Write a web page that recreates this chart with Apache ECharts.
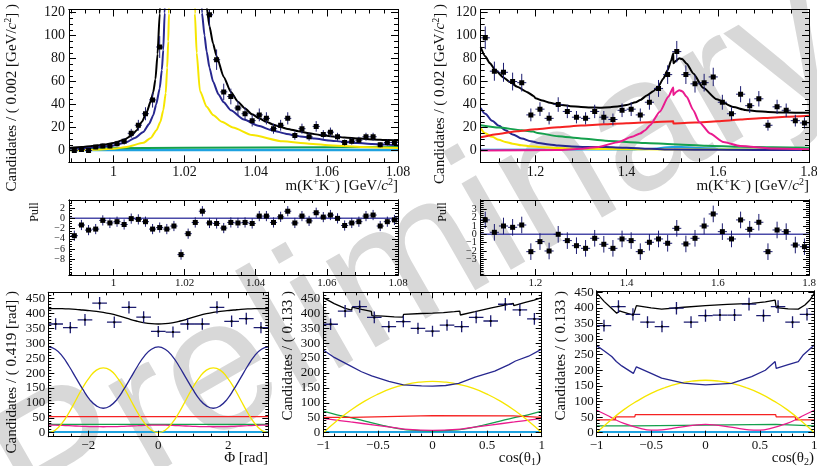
<!DOCTYPE html>
<html><head><meta charset="utf-8">
<script src="https://cdn.jsdelivr.net/npm/echarts@6/dist/echarts.min.js"></script>
<style>html,body{margin:0;padding:0;background:#fff}#c{width:817px;height:466px}</style>
</head><body><div id="c"></div>
<script>
// ===================== DATA =====================
// Panel 1: m(K+K-) near phi(1020), bins of 0.002
const p1X = [0.989,0.991,0.993,0.995,0.997,0.999,1.001,1.003,1.005,1.007,1.009,1.011,1.013,1.015,1.017,1.019,1.021,1.023,1.025,1.027,1.029,1.031,1.033,1.035,1.037,1.039,1.041,1.043,1.045,1.047,1.049,1.051,1.053,1.055,1.057,1.059,1.061,1.063,1.065,1.067,1.069,1.071,1.073,1.075,1.077,1.079];
const p1N = [0,1,0,3,4,4,6,8,15,22,32,44,90,180,420,700,520,300,190,118,79,51,47,37,32,26,31,28,19,22,28,13,19,12,21,14,16,12,7,8,9,12,12,5,7,7];
const p1Pull = [-3.4,-1.3,-2.3,-2.1,-0.4,-0.9,-0.65,-1.2,-0.05,-0.2,-0.65,-2.1,-1.8,-2.1,-1.5,-7.1,-3.0,-0.8,1.4,-0.9,-1.0,-1.9,-0.8,-0.9,-0.8,-1.0,0.45,0.45,-0.8,0.3,1.4,-0.9,0.45,-0.5,1.1,0.25,0.65,0.0,-1.4,-0.9,-0.65,0.45,0.65,-1.5,-0.65,-0.3];
const p1Total = [[0.9875,2.3],[0.991,3.0],[0.994,3.9],[0.997,5.0],[1.000,6.6],[1.003,9.4],[1.005,12.8],[1.0065,17.5],[1.008,25],[1.0093,33],[1.0105,43],[1.0112,51],[1.0118,62],[1.0124,84],[1.013,119],[1.0135,150],[1.0145,240],[1.016,600],[1.0195,2000],[1.024,400],[1.025,230],[1.0262,125],[1.027,108],[1.028,93],[1.029,82],[1.031,64],[1.033,51],[1.035,42.5],[1.037,36.5],[1.039,31.5],[1.041,28],[1.043,25],[1.045,22.5],[1.047,20.5],[1.049,18.8],[1.052,16.8],[1.055,15],[1.058,13.6],[1.061,12.5],[1.065,11.3],[1.069,10.4],[1.073,9.7],[1.077,9.1],[1.080,8.8]];
const p1Navy = [[0.9875,1.5],[0.991,2.0],[0.994,2.6],[0.997,3.3],[1.000,4.5],[1.0037,7.3],[1.006,11],[1.0084,16.2],[1.010,23],[1.0112,30.8],[1.012,40],[1.013,54],[1.0136,70],[1.014,87.5],[1.0144,119.5],[1.015,180],[1.017,600],[1.0195,2500],[1.022,600],[1.0238,200],[1.0249,119.5],[1.0256,100],[1.0262,86],[1.027,72],[1.028,60],[1.0295,49],[1.031,42],[1.033,35],[1.0367,27],[1.0407,21.5],[1.0447,17.5],[1.0487,14.5],[1.0526,12.3],[1.0566,10.4],[1.0606,8.8],[1.0647,7.6],[1.0687,6.6],[1.0727,5.8],[1.080,4.6]];
const p1Yellow = [[0.9875,0.3],[0.995,0.8],[1.000,1.5],[1.0037,3.2],[1.0084,6.7],[1.0105,11],[1.0121,17.7],[1.0132,25],[1.014,35],[1.0147,50],[1.0151,72],[1.0154,95],[1.0156,119],[1.0165,250],[1.0195,2500],[1.0225,250],[1.0229,119],[1.0234,85],[1.0243,52],[1.0262,38],[1.028,31],[1.0305,25],[1.0336,20],[1.039,13.5],[1.0476,8],[1.055,6],[1.0616,4.4],[1.07,3.2],[1.08,2.3]];
const p1Green = [[0.9875,1.8],[1.02,2.5],[1.08,3.0]];
const p1Cyan = [[0.9875,0.5],[1.08,0.5]];

// Panel 2: m(K+K-) high mass, bins of 0.02
const p2X = [1.09,1.11,1.13,1.15,1.17,1.19,1.21,1.23,1.25,1.27,1.29,1.31,1.33,1.35,1.37,1.39,1.41,1.43,1.45,1.47,1.49,1.51,1.53,1.55,1.57,1.59,1.61,1.63,1.65,1.67,1.69,1.71,1.73,1.75,1.77,1.79];
const p2N = [98,69,68,60,59,31,36,28,40,34,29,28,34,29,27,35,36,31,42,54,66,86,66,58,59,64,42,32,49,39,45,22,38,35,26,24];
const p2Pull = [1.73,0.24,1.0,0.84,1.12,-2.09,-0.88,-2.01,0,-0.76,-1.37,-1.69,-0.48,-1.2,-1.69,-0.56,-0.76,-2.09,-0.96,-0.56,-1.08,0.72,-1.16,-0.48,1.0,2.45,0.32,-0.56,1.73,0.6,1.45,-2.09,0.52,0.32,-1.29,-1.49];
const p2Total = [[1.08,90],[1.09,82],[1.10,76],[1.112,70],[1.13,63.5],[1.144,59.5],[1.16,55.5],[1.181,51],[1.196,47.5],[1.20,45.5],[1.215,43.5],[1.232,41.5],[1.25,40],[1.276,38.6],[1.30,37.8],[1.32,37.4],[1.34,37.3],[1.364,37.6],[1.38,38.4],[1.40,39.6],[1.42,42],[1.43,44],[1.445,48],[1.4585,51.5],[1.47,56],[1.4804,62.5],[1.49,70],[1.4975,78],[1.5024,84.6],[1.5025,75.9],[1.508,78],[1.5155,80.2],[1.522,79.5],[1.5317,75.5],[1.5463,67],[1.568,54.5],[1.5975,44.5],[1.634,37.8],[1.66,35.3],[1.685,34.2],[1.71,33.5],[1.736,33.1],[1.77,32.9],[1.8,32.8]];
const p2Magenta = [[1.08,0],[1.25,0.5],[1.30,1.5],[1.3388,3.2],[1.3826,7.5],[1.4118,11.9],[1.4294,14.8],[1.441,17.7],[1.4513,22],[1.4733,34],[1.4914,46.7],[1.5024,54.9],[1.5025,48.2],[1.509,51],[1.5155,52.5],[1.522,51.5],[1.5317,46.7],[1.5463,35.1],[1.559,24.9],[1.583,14.8],[1.612,7.5],[1.649,4.0],[1.722,1.7],[1.8,1.1]];
const p2Red = [[1.08,11.5],[1.12,14.5],[1.16,16.8],[1.2,18.5],[1.25,20.3],[1.3,21.7],[1.35,22.8],[1.4,23.7],[1.45,24.5],[1.5024,25.4],[1.5025,23.6],[1.55,24.3],[1.6,25.5],[1.65,26.9],[1.7,28.2],[1.75,29.3],[1.8,30.2]];
const p2Green = [[1.08,22],[1.12,20],[1.17,17.7],[1.195,16.5],[1.205,15.2],[1.25,12.5],[1.3,10.5],[1.353,8.6],[1.4,7.5],[1.441,6.6],[1.5,5.5],[1.575,4.2],[1.65,3.3],[1.72,2.8],[1.8,2.4]];
const p2Navy = [[1.08,37],[1.09,32],[1.105,26],[1.12,21.5],[1.134,17.7],[1.15,14],[1.17,10.5],[1.19,8.2],[1.207,6.6],[1.23,5.3],[1.251,4.3],[1.28,3.6],[1.309,3.2],[1.353,3.0],[1.4,2.5],[1.45,1.5],[1.5,0.9],[1.6,0.6],[1.8,0.4]];
const p2Yellow = [[1.08,19.5],[1.09,15],[1.105,11.9],[1.12,9.3],[1.134,7.5],[1.15,6],[1.17,4.6],[1.19,3.7],[1.207,3.2],[1.25,2.2],[1.28,1.7],[1.35,1.3],[1.5,1.0],[1.8,0.8]];
const p2Cyan = [[1.08,0.8],[1.4,0.9],[1.45,1.4],[1.5,3.0],[1.52,3.2],[1.56,2.2],[1.62,1.2],[1.8,0.8]];

// Panel 3: Phi [rad], 15 bins
const p3X = [-2.932,-2.513,-2.094,-1.676,-1.257,-0.838,-0.419,0,0.419,0.838,1.257,1.676,2.094,2.513,2.932];
const p3N = [365,353,379,435,371,421,388,340,338,365,365,421,374,383,353];
const p3CurveX = [-3.1416,-2.9452,-2.7489,-2.5525,-2.3562,-2.1598,-1.9635,-1.7671,-1.5708,-1.3744,-1.1781,-0.9817,-0.7854,-0.589,-0.3927,-0.1963,0,0.1963,0.3927,0.589,0.7854,0.9817,1.1781,1.3744,1.5708,1.7671,1.9635,2.1598,2.3562,2.5525,2.7489,2.9452,3.1416];
const p3Total = [417,417,416.5,415.5,414,412,410,407.5,404,399.5,394,387.5,380,374,369,366,365,366,369,374,380,387.5,394,399.5,404,407.5,410,412,414,415.5,416.5,417,417];
const p3Navy = [288,280,258,224,185,146,112,90,82,90,112,146,185,224,258,280,288,280,258,224,185,146,112,90,82,90,112,146,185,224,258,280,288];
const p3Yellow = [0,8,32,67,109,151,186,210,218,210,186,151,109,67,32,8,0,8,32,67,109,151,186,210,218,210,186,151,109,67,32,8,0];
const p3Magenta = [25.5,25.3,24.5,23.5,22.5,21.5,20.5,20.1,20,20.1,20.5,21.5,22.5,23.5,24.5,25.3,25.5,25.3,24.5,23.5,22.5,21.5,20.5,20.1,20,20.1,20.5,21.5,22.5,23.5,24.5,25.3,25.5];
const p3Red = [[-3.1416,54],[3.1416,54]];
const p3Green = [[-3.1416,28],[3.1416,28]];
const p3Cyan = [[-3.1416,2],[3.1416,2]];

// Panel 4: cos(theta1), 15 bins
const p4X = [-0.933,-0.8,-0.667,-0.533,-0.4,-0.267,-0.133,0,0.133,0.267,0.4,0.533,0.667,0.8,0.933];
const p4N = [363,407,422,386,355,372,349,340,360,355,386,374,430,411,381];
const p4Total = [[-1,452],[-0.9,432],[-0.8,416],[-0.74,410],[-0.735,420],[-0.65,413],[-0.56,406],[-0.555,392],[-0.45,390],[-0.35,388],[-0.27,387],[-0.265,396],[-0.1,399],[0,400],[0.1,402],[0.2,405],[0.25,407],[0.255,394],[0.39,405],[0.54,418],[0.65,426],[0.74,433],[0.745,425],[0.85,436],[0.93,444],[1,452]];
const p4Navy = [[-1,277],[-0.9,252],[-0.77,227],[-0.765,221],[-0.65,204],[-0.557,190],[-0.55,194],[-0.4,172],[-0.267,160],[-0.26,165],[-0.1,157],[0,156],[0.12,158],[0.24,165],[0.39,186],[0.57,206],[0.7,228],[0.76,240],[0.765,234],[0.88,256],[1,280]];
const p4Yellow = [[-1,0],[-0.875,40],[-0.75,75],[-0.625,105],[-0.5,129],[-0.375,148],[-0.25,161],[-0.125,169],[0,172],[0.125,169],[0.25,161],[0.375,148],[0.5,129],[0.625,105],[0.75,75],[0.875,40],[1,0]];
const p4Red = [[-1,51],[-0.74,51],[-0.735,56],[0,57],[0.74,56],[0.745,51],[1,51]];
const p4Green = [[-1,72],[-0.875,60],[-0.74,50],[-0.6,37],[-0.45,24],[-0.3,13],[-0.15,7.5],[0,5.6],[0.15,7.5],[0.3,13],[0.45,24],[0.6,37],[0.74,50],[0.875,60],[1,72]];
const p4Magenta = [[-1,48],[-0.75,36],[-0.53,25.7],[-0.35,17],[-0.22,11],[0,8],[0.22,11],[0.35,17],[0.53,25.7],[0.75,36],[1,48]];
const p4Cyan = [[-1,2],[1,2]];

// Panel 5: cos(theta2), 15 bins
const p5X = [-0.933,-0.8,-0.667,-0.533,-0.4,-0.267,-0.133,0,0.133,0.267,0.4,0.533,0.667,0.8,0.933];
const p5N = [343,404,379,354,340,399,354,375,377,377,412,375,404,354,379];
const p5Total = [[-1,447],[-0.93,420],[-0.862,398],[-0.816,383],[-0.79,390],[-0.77,388],[-0.663,377],[-0.645,377],[-0.635,407],[-0.5,400],[-0.403,396],[-0.2,402],[0,407],[0.2,411],[0.424,414.5],[0.55,419],[0.64,425],[0.65,401],[0.76,397],[0.853,396],[0.914,409],[0.96,425],[1,447]];
const p5Navy = [[-1,279],[-0.93,262],[-0.862,244],[-0.82,228],[-0.77,214],[-0.663,190],[-0.645,188],[-0.635,211],[-0.5,190],[-0.403,175],[-0.2,159],[0,153],[0.24,158],[0.424,179.5],[0.55,200],[0.64,228],[0.65,206],[0.76,218],[0.853,228],[0.9,250],[1,281]];
const p5Yellow = [[-1,0],[-0.875,39],[-0.75,74],[-0.625,102],[-0.5,126],[-0.375,144],[-0.25,157],[-0.125,165],[0,168],[0.125,165],[0.25,157],[0.375,144],[0.5,126],[0.625,102],[0.75,74],[0.875,39],[1,0]];
const p5Red = [[-1,41],[-0.83,41],[-0.825,51],[-0.65,51],[-0.645,58],[0.645,58],[0.65,51],[0.825,51],[0.83,41],[1,41]];
const p5Green = [[-1,22],[-0.65,22],[-0.645,27],[0.645,27],[0.65,22],[1,22]];
const p5Magenta = [[-1,72],[-0.9,55],[-0.83,42],[-0.75,30],[-0.6,14],[-0.5,8],[-0.4,9],[-0.25,17],[0,27],[0.25,17],[0.4,9],[0.5,8],[0.6,14],[0.75,30],[0.83,42],[0.9,55],[1,72]];
const p5Cyan = [[-1,2],[1,2]];

// Tick labels
const tkMassLo = [1,1.02,1.04,1.06,1.08];
const tkMassHi = [1.2,1.4,1.6,1.8];
const tkCount = [0,20,40,60,80,100,120];
const tkPull1 = [-8,-6,-4,-2,0,2];
const tkPull2 = [-4,-3,-2,-1,0,1,2,3,4];
const tkPhi = [-2,0,2];
const tkCos = [-1,-0.5,0,0.5,1];
const tkAng = [0,50,100,150,200,250,300,350,400,450];

// ===================== STYLE / BUILD =====================
const C = {black:'#000000', navy:'#27278f', yellow:'#f6e600', red:'#f52222', green:'#14a04c', magenta:'#ea1a8e', cyan:'#1ea2e0', bar:'#1c1c70', zero:'#4a4aa8'};
const FONT = 'Liberation Serif';

function seq(a, b, step) {
  const out = []; const n = Math.round((b - a) / step);
  for (let i = 0; i <= n; i++) out.push(+(a + i * step).toFixed(6));
  return out;
}
function within(arr, lo, hi) { return arr.filter(v => v >= lo - 1e-9 && v <= hi + 1e-9); }
const fmt = v => String(v).replace('-', '\u2212');

const option = {animation:false, backgroundColor:'#fff', grid:[], xAxis:[], yAxis:[], series:[], graphic:[]};
const AX = [];

function axis(g, pos, min, max, ticks, len, label) {
  return {type:'value', gridIndex:g, position:pos, min, max, silent:true, z:6,
    axisLine:{show:true, onZero:false, lineStyle:{color:'#000', width:1}},
    axisTick:{show:true, inside:true, length:len, customValues:ticks, lineStyle:{color:'#000', width:1}},
    axisLabel: label ? Object.assign({show:true, customValues:ticks, fontFamily:FONT, color:'#111', formatter:fmt, hideOverlap:false}, label) : {show:false},
    splitLine:{show:false}, minorTick:{show:false}, minorSplitLine:{show:false}, axisPointer:{show:false}};
}

function panel(p) {
  const g = option.grid.length;
  option.grid.push({left:p.left, top:p.top, width:p.width, height:p.height, containLabel:false, outerBoundsMode:'none', show:false});
  const xMaj = within(p.xTicks, p.xMin, p.xMax), xMin = within(seq(p.xMinorFrom, p.xMax, p.xMinorStep), p.xMin, p.xMax);
  const yMaj = within(p.yTicks, p.yMin, p.yMax), yMin = within(seq(p.yMinorFrom, p.yMax, p.yMinorStep), p.yMin, p.yMax);
  const xi = option.xAxis.length, yi = option.yAxis.length;
  option.xAxis.push(axis(g,'bottom',p.xMin,p.xMax,xMaj,p.majLen,{fontSize:p.xFont, margin:p.xMargin}));
  option.xAxis.push(axis(g,'bottom',p.xMin,p.xMax,xMin,p.minLen,null));
  option.xAxis.push(axis(g,'top',p.xMin,p.xMax,xMaj,p.majLen,null));
  option.xAxis.push(axis(g,'top',p.xMin,p.xMax,xMin,p.minLen,null));
  option.yAxis.push(axis(g,'left',p.yMin,p.yMax,yMaj,p.majLen,{fontSize:p.yFont, margin:p.yMargin}));
  option.yAxis.push(axis(g,'left',p.yMin,p.yMax,yMin,p.minLen,null));
  option.yAxis.push(axis(g,'right',p.yMin,p.yMax,yMaj,p.majLen,null));
  option.yAxis.push(axis(g,'right',p.yMin,p.yMax,yMin,p.minLen,null));
  AX.push({x:xi, y:yi});
  return g;
}

function curve(g, data, color, width, smooth, mono) {
  const s = {type:'line', xAxisIndex:AX[g].x, yAxisIndex:AX[g].y, data, showSymbol:false, symbol:'none',
    smooth: smooth || false, clip:true, silent:true, z:3, lineStyle:{color, width}};
  if (mono) s.smoothMonotone = 'x';
  option.series.push(s);
}
function points(g, data, halfW, ms, barW) {
  option.series.push({type:'custom', xAxisIndex:AX[g].x, yAxisIndex:AX[g].y, data, clip:true, silent:true, z:4,
    renderItem(params, api) {
      const x = api.value(0), y = api.value(1), e = api.value(2);
      const c = api.coord([x, y]), l = api.coord([x - halfW, y]), r = api.coord([x + halfW, y]);
      const t = api.coord([x, y + e]), b = api.coord([x, y - e]);
      return {type:'group', children:[
        {type:'line', shape:{x1:l[0], y1:c[1], x2:r[0], y2:c[1]}, style:{stroke:C.bar, lineWidth:barW}},
        {type:'line', shape:{x1:c[0], y1:t[1], x2:c[0], y2:b[1]}, style:{stroke:C.bar, lineWidth:barW}},
        {type:'rect', shape:{x:c[0]-ms/2, y:c[1]-ms/2, width:ms, height:ms}, style:{fill:'#000'}}
      ]};
    }});
}
const zipXY = (xs, ys) => xs.map((x, i) => [x, ys[i]]);
const withErr = (xs, ys) => xs.map((x, i) => [x, ys[i], Math.sqrt(ys[i])]);
const withUnit = (xs, ys) => xs.map((x, i) => [x, ys[i], 1]);

// ----- grids -----
const topCommon = {top:9.5, height:152.8, yMin:-10.2, yMax:122.6, yTicks:tkCount, yMinorFrom:0, yMinorStep:5, majLen:7, minLen:4, xFont:14, yFont:14, xMargin:3, yMargin:4};
const g0 = panel(Object.assign({}, topCommon, {left:69, width:329, xMin:0.9875, xMax:1.08, xTicks:tkMassLo, xMinorFrom:0.988, xMinorStep:0.004}));
const g1 = panel(Object.assign({}, topCommon, {left:480.7, width:328.3, xMin:1.08, xMax:1.8, xTicks:tkMassHi, xMinorFrom:1.08, xMinorStep:0.04}));
const g2 = panel({left:69, width:329, top:200, height:75, xMin:0.9875, xMax:1.08, xTicks:tkMassLo, xMinorFrom:0.988, xMinorStep:0.004,
  yMin:-11.1, yMax:3.6, yTicks:tkPull1, yMinorFrom:-11, yMinorStep:0.5, majLen:6, minLen:3, xFont:11, yFont:10, xMargin:3, yMargin:4});
const g3 = panel({left:480.7, width:328.3, top:200, height:75, xMin:1.08, xMax:1.8, xTicks:tkMassHi, xMinorFrom:1.08, xMinorStep:0.04,
  yMin:-4.9, yMax:4.13, yTicks:tkPull2, yMinorFrom:-4.75, yMinorStep:0.25, majLen:6, minLen:3, xFont:11, yFont:10, xMargin:3, yMargin:4});
const botCommon = {top:292.3, height:144.4, yTicks:tkAng, yMinorFrom:0, yMinorStep:10, majLen:6, minLen:3, xFont:13, yFont:13, xMargin:2, yMargin:3};
const g4 = panel(Object.assign({}, botCommon, {left:48.3, width:220, xMin:-Math.PI, xMax:Math.PI, xTicks:tkPhi, xMinorFrom:-3, xMinorStep:0.5, yMin:-13.5, yMax:471.5}));
const g5 = panel(Object.assign({}, botCommon, {left:323.3, width:218.4, xMin:-1, xMax:1, xTicks:tkCos, xMinorFrom:-1, xMinorStep:0.1, yMin:-13.4, yMax:470}));
const g6 = panel(Object.assign({}, botCommon, {left:596.7, top:291, height:145.7, width:217.6, xMin:-1, xMax:1, xTicks:tkCos, xMinorFrom:-1, xMinorStep:0.1, yMin:-12.8, yMax:454}));

// ----- series -----
curve(g0, p1Cyan, C.cyan, 2.5);
curve(g0, p1Green, C.green, 2);
curve(g0, p1Yellow, C.yellow, 2, 0.2, true);
curve(g0, p1Navy, C.navy, 2, 0.2, true);
curve(g0, p1Total, C.black, 2, 0.2, true);
points(g0, withErr(p1X, p1N), 0.001, 5, 1);

curve(g1, p2Cyan, C.cyan, 2, 0.3, true);
curve(g1, p2Yellow, C.yellow, 2, 0.3, true);
curve(g1, p2Navy, C.navy, 2, 0.3, true);
curve(g1, p2Green, C.green, 2, 0.2, true);
curve(g1, p2Red, C.red, 2, 0.2, true);
curve(g1, p2Magenta, C.magenta, 2, 0.2, true);
curve(g1, p2Total, C.black, 2, 0.2, true);
points(g1, withErr(p2X, p2N), 0.01, 5, 1);

curve(g2, [[0.9875,0],[1.08,0]], C.zero, 1.5);
points(g2, withUnit(p1X, p1Pull), 0.001, 5, 1);
curve(g3, [[1.08,0],[1.8,0]], C.zero, 1.5);
points(g3, withUnit(p2X, p2Pull), 0.01, 5, 1);

curve(g4, p3Cyan, C.cyan, 2);
curve(g4, p3Green, C.green, 1.3);
curve(g4, zipXY(p3CurveX, p3Magenta), C.magenta, 1.3, 0.5);
curve(g4, p3Red, C.red, 1.3);
curve(g4, zipXY(p3CurveX, p3Yellow), C.yellow, 1.3, 0.5);
curve(g4, zipXY(p3CurveX, p3Navy), C.navy, 1.3, 0.5);
curve(g4, zipXY(p3CurveX, p3Total), C.black, 1.3, 0.5);
points(g4, withErr(p3X, p3N), 0.2094, 2, 1.3);

curve(g5, p4Cyan, C.cyan, 2);
curve(g5, p4Green, C.green, 1.3, 0.4);
curve(g5, p4Magenta, C.magenta, 1.3, 0.4);
curve(g5, p4Red, C.red, 1.3);
curve(g5, p4Yellow, C.yellow, 1.3, 0.5);
curve(g5, p4Navy, C.navy, 1.3);
curve(g5, p4Total, C.black, 1.3);
points(g5, withErr(p4X, p4N), 0.0667, 2, 1.3);

curve(g6, p5Cyan, C.cyan, 2);
curve(g6, p5Green, C.green, 1.3);
curve(g6, p5Magenta, C.magenta, 1.3, 0.4);
curve(g6, p5Red, C.red, 1.3);
curve(g6, p5Yellow, C.yellow, 1.3, 0.5);
curve(g6, p5Navy, C.navy, 1.3);
curve(g6, p5Total, C.black, 1.3);
points(g6, withErr(p5X, p5N), 0.0667, 2, 1.3);

// ----- texts -----
const RICH = {
  n:{fontFamily:FONT, fontSize:15, lineHeight:18, fill:'#111'},
  i:{fontFamily:FONT, fontSize:15, lineHeight:18, fontStyle:'italic', fill:'#111'},
  s:{fontFamily:FONT, fontSize:10, lineHeight:18, verticalAlign:'top', fill:'#111'},
  b:{fontFamily:FONT, fontSize:10, lineHeight:18, verticalAlign:'bottom', fill:'#111'},
  p:{fontFamily:FONT, fontSize:12, lineHeight:14, fill:'#111'}
};
function txt(x, y, text, align, rot) {
  option.graphic.push({type:'text', x, y, rotation:rot || 0, z:20, silent:true,
    style:{text, align, verticalAlign:'middle', rich:RICH, fill:'#111', fontFamily:FONT, fontSize:15}});
}
const MASS = '{n|m(K}{s|+}{n|K}{s|\u2212}{n|) [GeV/}{i|c}{s|2}{n|]}';
txt(398, 186, MASS, 'right', 0);
txt(809, 186, MASS, 'right', 0);
txt(12, 4, '{n|Candidates / ( 0.002 [GeV/}{i|c}{s|2}{n|] )}', 'right', Math.PI/2);
txt(440, 4, '{n|Candidates / ( 0.02 [GeV/}{i|c}{s|2}{n|] )}', 'right', Math.PI/2);
txt(35, 212, '{p|Pull}', 'center', Math.PI/2);
txt(443, 212, '{p|Pull}', 'center', Math.PI/2);
txt(12, 291, '{n|Candidates / ( 0.419 [rad] )}', 'right', Math.PI/2);
txt(288, 291, '{n|Candidates / ( 0.133 )}', 'right', Math.PI/2);
txt(561, 291, '{n|Candidates / ( 0.133 )}', 'right', Math.PI/2);
txt(268, 458, '{n|\u03A6 [rad]}', 'right', 0);
txt(541, 458, '{n|cos(\u03B8}{b|1}{n|)}', 'right', 0);
txt(814, 458, '{n|cos(\u03B8}{b|2}{n|)}', 'right', 0);

// watermark
option.graphic.push({type:'text', x:420, y:262, rotation:0.52, z:1, silent:true,
  style:{text:'Preliminary', fontFamily:'Liberation Sans', fontSize:188, fill:'#d8d8d8', align:'center', verticalAlign:'middle'}});

const chart = echarts.init(document.getElementById('c'), null, {renderer:'canvas'});
chart.setOption(option);
</script></body></html>
